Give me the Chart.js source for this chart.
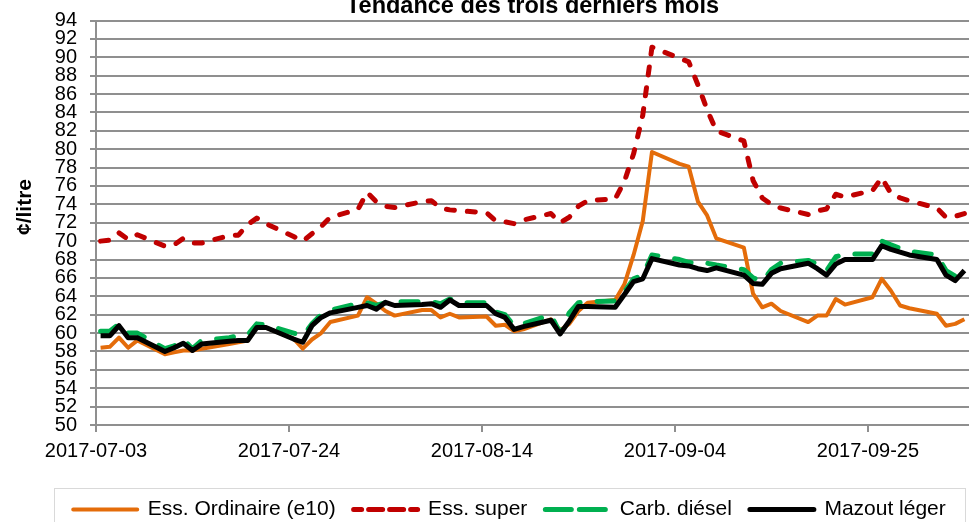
<!DOCTYPE html>
<html lang="fr">
<head>
<meta charset="utf-8">
<title>Tendance des trois derniers mois</title>
<script src="https://cdn.jsdelivr.net/npm/chart.js@4/dist/chart.umd.min.js"></script>
<style>
  html, body { margin: 0; padding: 0; background: #fff; }
  #wrap { width: 969px; height: 522px; }
</style>
</head>
<body>
<div id="wrap"><canvas id="prixChart" width="969" height="522"></canvas></div>
<script>
// =========================
// DONNÉES (¢/litre, jours ouvrables)
// =========================
const titre = "Tendance des trois derniers mois";
const axeY = "¢/litre";
const debut = "2017-07-03";

const dates = [
    "2017-07-03", "2017-07-04", "2017-07-05", "2017-07-06", "2017-07-07",
    "2017-07-10", "2017-07-11", "2017-07-12", "2017-07-13", "2017-07-14",
    "2017-07-17", "2017-07-18", "2017-07-19", "2017-07-20", "2017-07-21",
    "2017-07-24", "2017-07-25", "2017-07-26", "2017-07-27", "2017-07-28",
    "2017-07-31", "2017-08-01", "2017-08-02", "2017-08-03", "2017-08-04",
    "2017-08-07", "2017-08-08", "2017-08-09", "2017-08-10", "2017-08-11",
    "2017-08-14", "2017-08-15", "2017-08-16", "2017-08-17", "2017-08-18",
    "2017-08-21", "2017-08-22", "2017-08-23", "2017-08-24", "2017-08-25",
    "2017-08-28", "2017-08-29", "2017-08-30", "2017-08-31", "2017-09-01",
    "2017-09-04", "2017-09-05", "2017-09-06", "2017-09-07", "2017-09-08",
    "2017-09-11", "2017-09-12", "2017-09-13", "2017-09-14", "2017-09-15",
    "2017-09-18", "2017-09-19", "2017-09-20", "2017-09-21", "2017-09-22",
    "2017-09-25", "2017-09-26", "2017-09-27", "2017-09-28", "2017-09-29",
    "2017-10-02", "2017-10-03", "2017-10-04", "2017-10-05"
];

const essOrdinaire = [
    58.4, 58.5, 59.5, 58.4, 59.2,
    57.7, 57.9, 58.1, 58.1, 58.3,
    58.8, 59.0, 59.2, 60.8, 60.6,
    59.4, 58.3, 59.3, 60.0, 61.2,
    61.9, 63.9, 63.2, 62.4, 61.9,
    62.5, 62.5, 61.7, 62.1, 61.7,
    61.8, 60.8, 60.9, 60.2, 60.4,
    61.5, 60.3, 61.0, 62.4, 63.3,
    63.6, 65.3, 68.5, 72.2, 79.7,
    78.4, 78.1, 74.3, 72.8, 70.3,
    69.3, 64.3, 62.8, 63.2, 62.4,
    61.2, 61.9, 61.9, 63.7, 63.1,
    63.9, 65.9, 64.6, 63.0, 62.7,
    62.1, 60.8, 61.0, 61.5
];

const essSuper = [
    70.0, 70.1, 70.9, 70.2, 70.7,
    69.45, 69.6, 70.3, 69.8, 69.8,
    70.6, 70.65, 71.8, 72.5, 71.9,
    70.5, 70.0, 70.8, 71.6, 72.6,
    73.45, 75.3, 74.3, 73.8, 73.65,
    74.3, 74.4, 73.6, 73.4, 73.3,
    73.1, 72.2, 72.1, 71.9, 72.3,
    73.0, 72.0, 72.6, 73.8, 74.4,
    74.6, 76.5, 79.5, 83.7, 91.1,
    89.9, 89.5, 87.0, 84.3, 82.0,
    80.9, 76.6, 74.7, 74.0, 73.6,
    72.9, 73.3, 73.5, 75.1, 74.8,
    75.5, 76.9, 75.2, 74.7, 74.4,
    73.6, 72.6, 72.7, 73.0
];

const carbDiesel = [
    60.2, 60.2, 61.0, 60.0, 60.0,
    58.3, 58.6, 59.3, 58.3, 59.2,
    59.5, 59.7, 59.8, 61.0, 60.9,
    60.0, 59.7, 61.0, 62.0, 62.5,
    63.2, 63.3, 63.0, 63.3, 63.4,
    63.4, 63.4, 63.2, 63.7, 63.3,
    63.3, 62.3, 62.0, 60.8, 61.0,
    62.0, 60.0, 62.2, 63.3, 63.4,
    63.5, 64.5, 65.9, 66.3, 68.5,
    68.0, 67.7, 67.5, 67.6, 67.4,
    66.9, 66.0, 65.6, 66.9, 67.6,
    67.9, 67.5, 66.8, 68.3, 68.6,
    68.6, 70.0, 69.6, 69.2, 68.9,
    68.5, 66.8, 66.2, 67.3
];

const mazoutLeger = [
    59.7, 59.7, 60.8, 59.5, 59.5,
    58.0, 58.4, 58.9, 58.1, 58.8,
    59.1, 59.2, 59.2, 60.6, 60.6,
    59.35, 59.0, 60.8, 61.7, 62.2,
    62.8, 63.0, 62.6, 63.35, 63.0,
    63.1, 63.2, 62.8, 63.6, 63.0,
    63.0, 62.1, 61.7, 60.4, 60.7,
    61.4, 59.9, 61.3, 62.9, 62.9,
    62.8, 64.2, 65.6, 65.9, 68.1,
    67.4, 67.3, 67.0, 66.8, 67.1,
    66.3, 65.4, 65.3, 66.5, 67.0,
    67.6, 67.0, 66.3, 67.5, 68.0,
    68.0, 69.5, 69.1, 68.8, 68.5,
    68.0, 66.3, 65.7, 66.8
];

const nomsSeries = ["Ess. Ordinaire (e10)", "Ess. super", "Carb. diésel", "Mazout léger"];
const joursAxe = 95;        // 2017-07-03 .. 2017-10-05 inclus
const pasEtiquettes = 21;   // une étiquette toutes les 3 semaines

// =========================
// UTILITAIRES DE DATES
// =========================
const JOUR = 24 * 3600 * 1000;
const t0 = Date.parse(debut + "T00:00:00Z");

function jourDepuisDebut(d) {
    return Math.round((Date.parse(d + "T00:00:00Z") - t0) / JOUR);
}

function dateDuJour(n) {
    return new Date(t0 + n * JOUR).toISOString().slice(0, 10);
}

// Excel place chaque point au milieu de sa journée
function points(valeurs) {
    return dates.map((d, i) => ({ x: jourDepuisDebut(d) + 0.5, y: valeurs[i] }));
}

// =========================
// GRAPHIQUE
// =========================
const police = '"Liberation Sans", Arial, sans-serif';
Chart.defaults.font.family = police;
Chart.defaults.color = "#000";

const gris = "#8f8f8f";

const decor = {
    id: "decor",
    afterLayout(chart) {
        // cadre de légende décalé comme dans l'original
        const lg = chart.legend;
        lg.left = 54;
        lg.right = 965;
        lg.top += 8;
        lg.bottom += 8;
    },
    afterDraw(chart) {
        const { ctx, chartArea } = chart;
        ctx.save();
        ctx.strokeStyle = "#d9d9d9";
        ctx.lineWidth = 1;
        ctx.strokeRect(54.5, 488.5, 911, 60);

        ctx.fillStyle = "#000";
        ctx.font = "bold 23.5px " + police;
        ctx.textAlign = "center";
        ctx.textBaseline = "alphabetic";
        ctx.fillText(titre, (chartArea.left + chartArea.right) / 2, 13);

        ctx.translate(25, 207);
        ctx.rotate(-Math.PI / 2);
        ctx.font = "bold 21px " + police;
        ctx.textBaseline = "middle";
        ctx.fillText(axeY, 0, 0);
        ctx.restore();
    }
};

new Chart(document.getElementById("prixChart").getContext("2d"), {
    type: "line",
    data: {
        datasets: [
            {
                label: nomsSeries[0],
                data: points(essOrdinaire),
                borderColor: "#e46c0a",
                backgroundColor: "#e46c0a",
                borderWidth: 4,
                borderJoinStyle: "round",
                order: 4
            },
            {
                label: nomsSeries[1],
                data: points(essSuper),
                borderColor: "#c00000",
                backgroundColor: "#c00000",
                borderWidth: 5,
                borderDash: [8, 13],
                borderCapStyle: "round",
                borderJoinStyle: "round",
                order: 3
            },
            {
                label: nomsSeries[2],
                data: points(carbDiesel),
                borderColor: "#00b050",
                backgroundColor: "#00b050",
                borderWidth: 5,
                borderDash: [17, 17],
                borderCapStyle: "round",
                borderJoinStyle: "round",
                order: 2
            },
            {
                label: nomsSeries[3],
                data: points(mazoutLeger),
                borderColor: "#000",
                backgroundColor: "#000",
                borderWidth: 5,
                borderJoinStyle: "round",
                order: 1
            }
        ]
    },
    options: {
        responsive: false,
        animation: false,
        parsing: false,
        elements: { point: { radius: 0 }, line: { tension: 0 } },
        layout: { padding: { top: 20.5, left: 0, right: 0, bottom: 0 } },
        plugins: {
            title: { display: false },
            tooltip: { enabled: false },
            legend: {
                position: "bottom",
                labels: {
                    boxWidth: 64,
                    boxHeight: 0,
                    padding: 18,
                    font: { size: 21 },
                    sort: (a, b) => a.datasetIndex - b.datasetIndex
                }
            }
        },
        scales: {
            x: {
                type: "linear",
                min: 0,
                max: joursAxe,
                afterFit: (s) => { s.height = 48; },
                grid: { drawOnChartArea: false, drawTicks: true, tickLength: 7, color: gris, lineWidth: 2 },
                border: { color: gris, width: 2 },
                ticks: {
                    stepSize: pasEtiquettes,
                    includeBounds: false,
                    autoSkip: false,
                    maxRotation: 0,
                    padding: 7,
                    font: { size: 20 },
                    callback: (v) => dateDuJour(v)
                }
            },
            y: {
                min: 50,
                max: 94,
                afterFit: (s) => { s.width = 96; s.paddingTop = 0; s.paddingBottom = 0; },
                grid: { color: gris, lineWidth: 2, tickLength: 6 },
                border: { color: gris, width: 2 },
                ticks: {
                    stepSize: 2,
                    autoSkip: false,
                    padding: 13,
                    font: { size: 20 }
                }
            }
        }
    },
    plugins: [decor]
});
</script>
</body>
</html>
